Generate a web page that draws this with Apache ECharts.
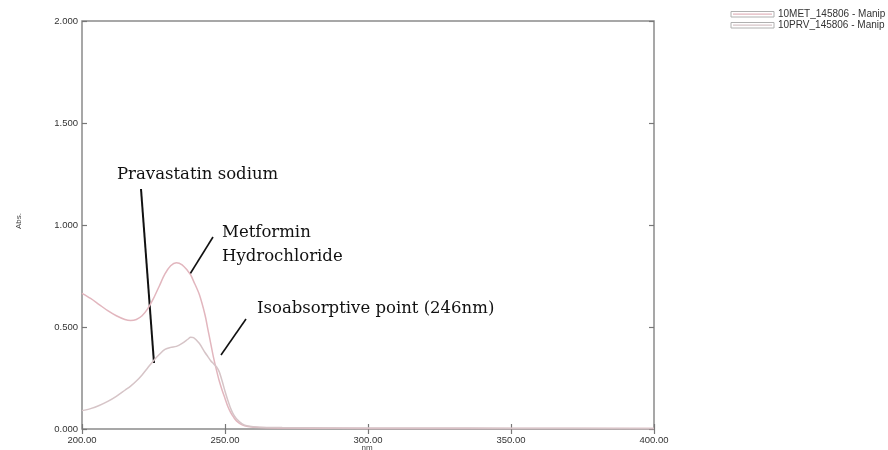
<!DOCTYPE html>
<html>
<head>
<meta charset="utf-8">
<script src="https://cdn.jsdelivr.net/npm/echarts@6/dist/echarts.min.js"></script>
<style>html,body{margin:0;padding:0;background:#fff;}#c{width:888px;height:450px;}</style>
</head>
<body>
<div id="c"></div>
<script>
var wavelengths = [200,203,206,209,212,215,217,219,221,223,225,227,229,231,233,235,237,238,239,241,243,244,245,246,247,248,249,250,251,252,253,254,256,258,262,270,280,300,320,350,400];
var metValues = [0.665,0.64,0.61,0.58,0.555,0.537,0.532,0.537,0.555,0.59,0.64,0.70,0.76,0.80,0.815,0.805,0.775,0.755,0.725,0.66,0.56,0.49,0.42,0.35,0.29,0.235,0.19,0.15,0.11,0.08,0.058,0.04,0.02,0.012,0.007,0.005,0.004,0.003,0.003,0.002,0.002];
var prvValues = [0.09,0.10,0.115,0.135,0.16,0.19,0.21,0.235,0.265,0.30,0.335,0.365,0.39,0.40,0.405,0.42,0.44,0.45,0.448,0.42,0.375,0.355,0.335,0.32,0.305,0.28,0.235,0.185,0.14,0.10,0.07,0.05,0.025,0.015,0.009,0.007,0.006,0.005,0.005,0.004,0.003];
var seriesNames = ['10MET_145806 - Manip', '10PRV_145806 - Manip'];
var xTicks = {min: 200, max: 400, interval: 50};
var yTicks = {min: 0, max: 2, interval: 0.5};

var metColor = '#e2b6be';
var prvColor = '#d6c4c7';

function pairs(xs, ys) { return xs.map(function (x, i) { return [x, ys[i]]; }); }

var chart = echarts.init(document.getElementById('c'));
var labelFont = {color: '#333', fontSize: 9.5, fontFamily: 'Liberation Sans'};
var annFont = '16.5px "DejaVu Serif"';
chart.setOption({
  animation: false,
  grid: {left: 82, right: 234, top: 21, bottom: 21, show: true, borderColor: '#8a8a8a', borderWidth: 1.5, backgroundColor: '#fff'},
  xAxis: [
    {type: 'value', min: xTicks.min, max: xTicks.max, interval: xTicks.interval, position: 'bottom',
     axisLine: {show: false}, splitLine: {show: false},
     axisTick: {show: true, inside: true, length: 5, lineStyle: {color: '#777', width: 1.2}},
     axisLabel: Object.assign({margin: 6, formatter: function (v) { return v.toFixed(2); }}, labelFont)},
    {type: 'value', min: xTicks.min, max: xTicks.max, interval: xTicks.interval, position: 'top',
     axisLine: {show: false}, splitLine: {show: false}, axisLabel: {show: false},
     axisTick: {show: true, inside: true, length: 5, lineStyle: {color: '#777', width: 1.2}}}
  ],
  yAxis: [
    {type: 'value', min: yTicks.min, max: yTicks.max, interval: yTicks.interval, position: 'left',
     axisLine: {show: false}, splitLine: {show: false},
     axisTick: {show: true, inside: true, length: 5, lineStyle: {color: '#777', width: 1.2}},
     axisLabel: Object.assign({margin: 4, formatter: function (v) { return v.toFixed(3); }}, labelFont)},
    {type: 'value', min: yTicks.min, max: yTicks.max, interval: yTicks.interval, position: 'right',
     axisLine: {show: false}, splitLine: {show: false}, axisLabel: {show: false},
     axisTick: {show: true, inside: true, length: 5, lineStyle: {color: '#777', width: 1.2}}}
  ],
  series: [
    {name: seriesNames[0], type: 'line', data: pairs(wavelengths, metValues), smooth: 0.3, showSymbol: false,
     lineStyle: {color: metColor, width: 1.5}, itemStyle: {color: metColor}},
    {name: seriesNames[1], type: 'line', data: pairs(wavelengths, prvValues), smooth: 0.3, showSymbol: false,
     lineStyle: {color: prvColor, width: 1.5}, itemStyle: {color: prvColor}}
  ],
  graphic: [
    // legend
    {type: 'rect', shape: {x: 731, y: 11.5, width: 43, height: 5.5}, style: {fill: '#fff', stroke: '#b0b0b0', lineWidth: 1}},
    {type: 'line', shape: {x1: 733, y1: 14.2, x2: 772, y2: 14.2}, style: {stroke: metColor, lineWidth: 1.2}},
    {type: 'text', style: {text: seriesNames[0], x: 778, y: 14.5, font: '10px "Liberation Sans"', fill: '#333', align: 'left', verticalAlign: 'middle'}},
    {type: 'rect', shape: {x: 731, y: 22.5, width: 43, height: 5.5}, style: {fill: '#fff', stroke: '#b0b0b0', lineWidth: 1}},
    {type: 'line', shape: {x1: 733, y1: 25.2, x2: 772, y2: 25.2}, style: {stroke: prvColor, lineWidth: 1.2}},
    {type: 'text', style: {text: seriesNames[1], x: 778, y: 25.5, font: '10px "Liberation Sans"', fill: '#333', align: 'left', verticalAlign: 'middle'}},
    // axis names
    {type: 'text', x: 19, y: 221, rotation: Math.PI / 2, style: {text: 'Abs.', x: 0, y: 0, font: '8px "Liberation Sans"', fill: '#444', align: 'center', verticalAlign: 'middle'}},
    {type: 'text', style: {text: 'nm', x: 367, y: 444, font: '8px "Liberation Sans"', fill: '#444', align: 'center', verticalAlign: 'top'}},
    // annotations
    {type: 'text', style: {text: 'Pravastatin sodium', x: 117, y: 175, font: annFont, fill: '#111', align: 'left', verticalAlign: 'middle'}},
    {type: 'line', shape: {x1: 141, y1: 189, x2: 154, y2: 363}, style: {stroke: '#111', lineWidth: 2}},
    {type: 'text', style: {text: 'Metformin', x: 222, y: 233, font: annFont, fill: '#111', align: 'left', verticalAlign: 'middle'}},
    {type: 'text', style: {text: 'Hydrochloride', x: 222, y: 257, font: annFont, fill: '#111', align: 'left', verticalAlign: 'middle'}},
    {type: 'line', shape: {x1: 213, y1: 237, x2: 190, y2: 274}, style: {stroke: '#111', lineWidth: 1.6}},
    {type: 'text', style: {text: 'Isoabsorptive point (246nm)', x: 257, y: 309, font: annFont, fill: '#111', align: 'left', verticalAlign: 'middle'}},
    {type: 'line', shape: {x1: 246, y1: 319, x2: 221, y2: 355}, style: {stroke: '#111', lineWidth: 1.6}}
  ]
});
</script>
</body>
</html>
